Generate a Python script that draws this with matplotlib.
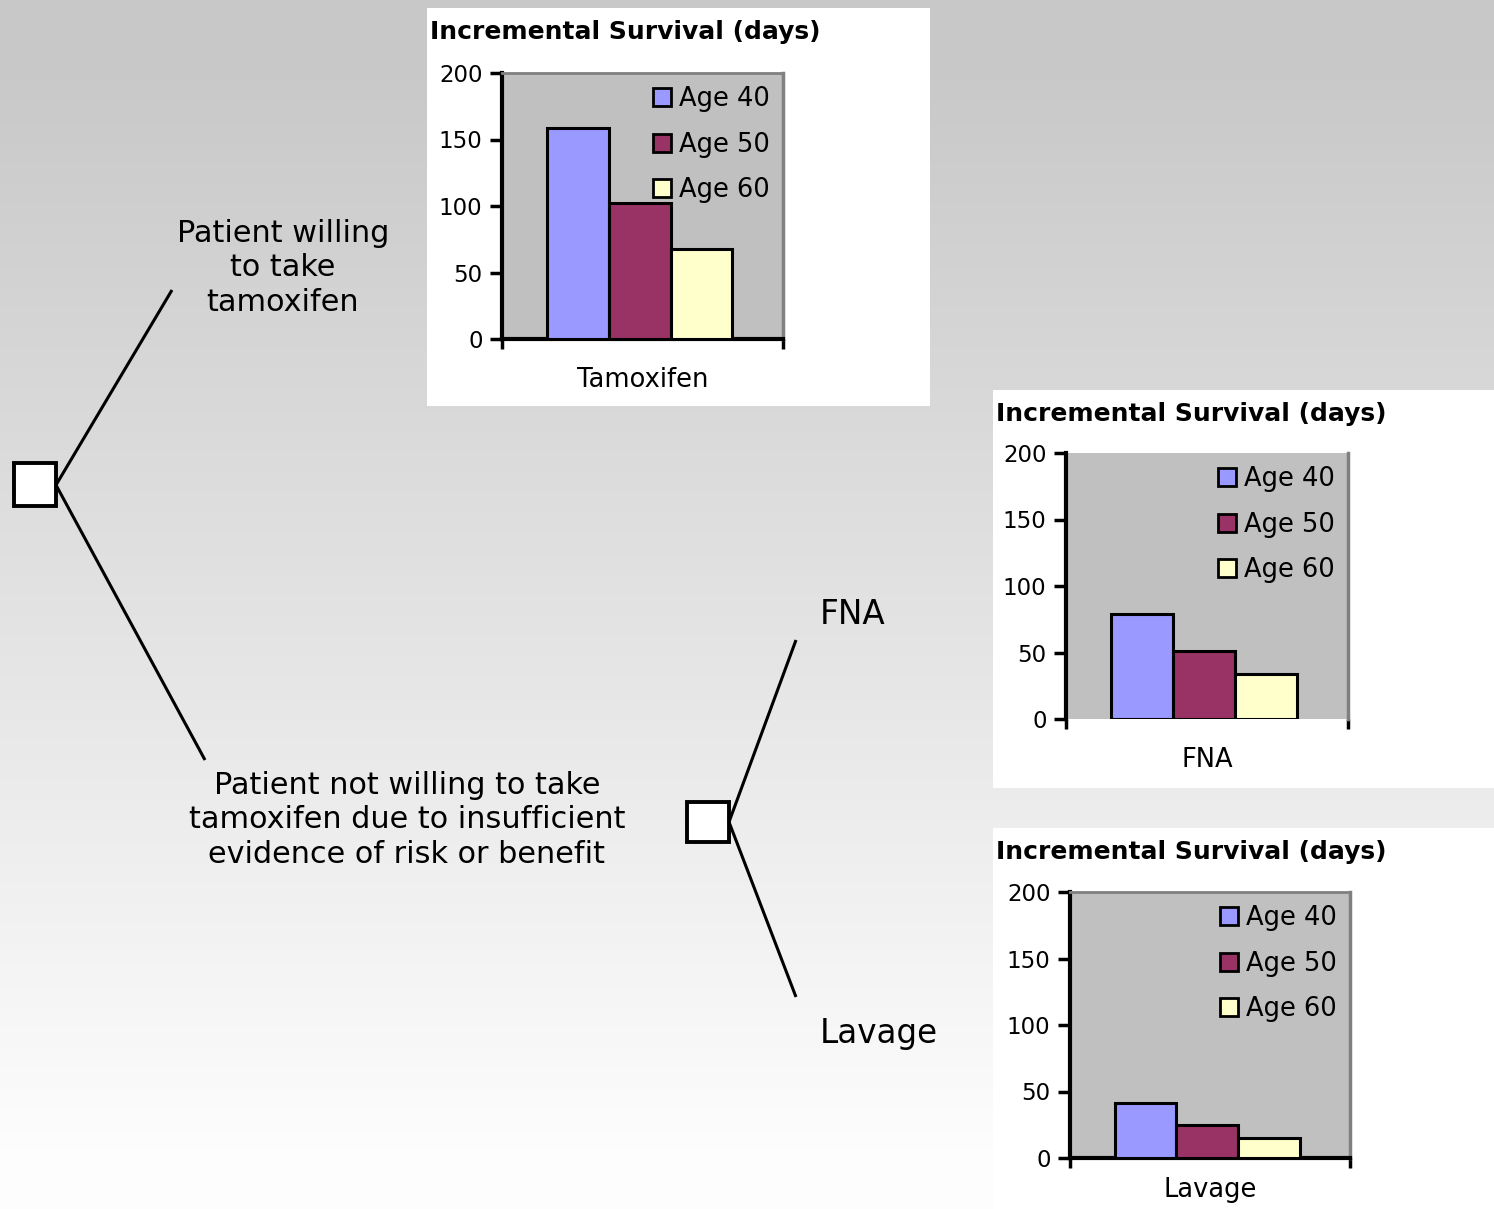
import numpy as np
import matplotlib
matplotlib.use("Agg")
import matplotlib.pyplot as plt
from matplotlib.patches import Patch, Rectangle

# Incremental survival (days) by patient age, one panel per strategy
age_groups = ["Age 40", "Age 50", "Age 60"]
tamoxifen_days = [159, 102, 68]
fna_days = [79, 51, 34]
lavage_days = [41, 25, 15]
y_ticks = [0, 50, 100, 150, 200]
panel_title = "Incremental Survival (days)"

bar_colors = ["#9999ff", "#993366", "#ffffcc"]
W, H = 1494, 1209

fig = plt.figure(figsize=(W / 100, H / 100), dpi=100)


def px_rect(x0, y0, x1, y1):
    return [x0 / W, 1 - y1 / H, (x1 - x0) / W, (y1 - y0) / H]


# Slide background: vertical grey-to-white gradient
bg = fig.add_axes([0, 0, 1, 1])
rows = np.arange(H)
shade = np.clip(200 + (253 - 200) * (rows - 60) / (1150 - 60), 200, 253) / 255.0
grad = np.repeat(shade[:, None, None], 3, axis=2)
bg.imshow(grad, aspect="auto", extent=[0, W, H, 0], interpolation="nearest")
bg.set_xlim(0, W)
bg.set_ylim(H, 0)
bg.axis("off")

# Decision tree
line_kw = dict(color="black", lw=2.2, solid_capstyle="butt")
bg.add_patch(Rectangle((14, 463), 42, 43, facecolor="white", edgecolor="black", lw=2.8))
bg.plot([56, 172], [485, 290], **line_kw)
bg.plot([56, 205], [485, 760], **line_kw)
bg.add_patch(Rectangle((687, 802), 42, 40, facecolor="white", edgecolor="black", lw=2.8))
bg.plot([729, 796], [822, 640], **line_kw)
bg.plot([729, 796], [822, 997], **line_kw)

tree_font = dict(family="DejaVu Sans", fontsize=21.8, color="black")
bg.text(283, 268, "Patient willing\nto take\ntamoxifen", ha="center", va="center",
        linespacing=1.22, **tree_font)
bg.text(407, 820, "Patient not willing to take\ntamoxifen due to insufficient\nevidence of risk or benefit",
        ha="center", va="center", linespacing=1.22, **tree_font)
bg.text(820, 614, "FNA", ha="left", va="center", family="DejaVu Sans", fontsize=23.5)
bg.text(820, 1033, "Lavage", ha="left", va="center", family="DejaVu Sans", fontsize=23.5)


def draw_panel(box, plot_box, values, category, closed=True, labelpad=10):
    # white chart area
    bg.add_patch(Rectangle((box[0], box[1]), box[2] - box[0], box[3] - box[1],
                           facecolor="white", edgecolor="none", zorder=3))
    bg.text(box[0] + 3, box[1] + 24, panel_title, ha="left", va="center",
            fontsize=18, fontweight="bold", family="DejaVu Sans", zorder=4)

    ax = fig.add_axes(px_rect(*plot_box))
    ax.set_facecolor("#c0c0c0")
    width = 0.22
    offsets = [-width, 0, width]
    for off, val, col in zip(offsets, values, bar_colors):
        ax.bar(-0.01 + off, val, width=width, color=col, edgecolor="black",
               linewidth=2.2, zorder=3)
    ax.set_xlim(-0.5, 0.5)
    ax.set_ylim(0, 200)
    ax.set_yticks(y_ticks)
    ax.set_yticklabels([str(t) for t in y_ticks], fontsize=16.5)
    ax.tick_params(axis="y", direction="out", length=9, width=2.5, pad=5)
    ax.set_xticks([-0.5, 0.5])
    ax.set_xticklabels(["", ""])
    ax.tick_params(axis="x", direction="out", length=7, width=2.5)
    ax.set_xlabel(category, fontsize=18.5, labelpad=labelpad)
    ax.spines["left"].set_linewidth(3)
    ax.spines["left"].set_color("black")
    ax.spines["right"].set_linewidth(2.5)
    ax.spines["right"].set_color("#808080")
    if closed:
        ax.spines["bottom"].set_linewidth(3)
        ax.spines["bottom"].set_color("black")
        ax.spines["top"].set_linewidth(2)
        ax.spines["top"].set_color("#808080")
    else:
        ax.spines["bottom"].set_visible(False)
        ax.spines["top"].set_visible(False)
    handles = [Patch(facecolor=c, edgecolor="black", linewidth=2) for c in bar_colors]
    ax.legend(handles, age_groups, loc="upper right", frameon=False, fontsize=18.5,
              handlelength=0.7, handleheight=0.7, handletextpad=0.3,
              labelspacing=0.75, borderaxespad=0.12)
    return ax


draw_panel((427, 8, 930, 406), (502, 73, 783, 339), tamoxifen_days, "Tamoxifen")
draw_panel((993, 390, 1494, 788), (1066, 453, 1348, 719), fna_days, "FNA", closed=False)
draw_panel((993, 828, 1494, 1209), (1070, 892, 1350, 1158), lavage_days, "Lavage",
           labelpad=3)

fig.savefig("out.png", dpi=100)
